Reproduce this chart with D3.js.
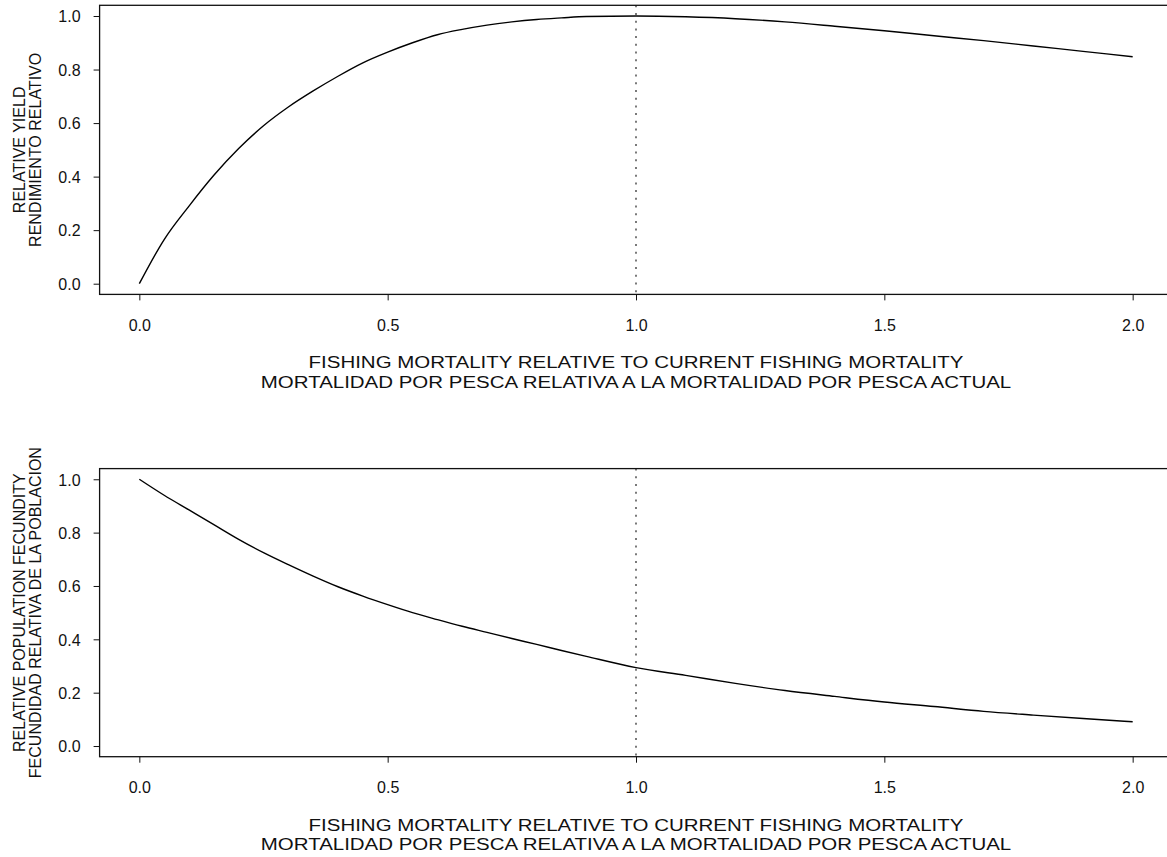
<!DOCTYPE html>
<html>
<head>
<meta charset="utf-8">
<script src="https://cdn.jsdelivr.net/npm/d3@7"></script>
<style>
  body { margin: 0; background: #fff; }
  svg { display: block; font-family: "Liberation Sans", Arial, sans-serif; }
  .tick text { font-size: 16px; fill: #111; }
</style>
</head>
<body>
<svg id="chart" width="1167" height="857"></svg>
<script>
// fishing mortality multipliers (x) shared by both panels
var fMult = [0,0.05,0.1,0.15,0.2,0.25,0.3,0.35,0.4,0.45,0.5,0.55,0.6,0.65,0.7,0.75,0.8,0.85,0.9,1.0,1.1,1.2,1.3,1.4,1.5,1.6,1.7,1.8,1.9,2.0];
// relative yield
var relYield = [0,0.165,0.29,0.405,0.505,0.59,0.66,0.72,0.775,0.825,0.865,0.9,0.93,0.95,0.966,0.978,0.987,0.993,0.998,1.0,0.997,0.99,0.978,0.962,0.945,0.926,0.908,0.888,0.868,0.848];
// relative population fecundity
var relFecund = [1.0,0.94,0.885,0.83,0.775,0.725,0.68,0.637,0.597,0.562,0.53,0.5,0.474,0.449,0.426,0.403,0.381,0.358,0.336,0.294,0.265,0.235,0.208,0.186,0.165,0.148,0.13,0.116,0.103,0.091];

var xTicks = [0,0.5,1.0,1.5,2.0];
var yTicks = [0,0.2,0.4,0.6,0.8,1.0];
var refLine = 1.0;

var xTitle = ["FISHING MORTALITY RELATIVE TO CURRENT FISHING MORTALITY",
              "MORTALIDAD POR PESCA RELATIVA A LA MORTALIDAD POR PESCA ACTUAL"];
var panels = [
  {values: relYield, ylab: ["RELATIVE YIELD","RENDIMIENTO RELATIVO"], top: 5.3, bottom: 294.4},
  {values: relFecund, ylab: ["RELATIVE POPULATION FECUNDITY","FECUNDIDAD RELATIVA DE LA POBLACION"], top: 468.6, bottom: 756.7}
];

var svg = d3.select("#chart");
var left = 99.6, right = 1172.4;
var fmt = d3.format(".1f");

var x = d3.scaleLinear().domain([-0.08, 2.08]).range([left, right]);

panels.forEach(function(p){
  var y = d3.scaleLinear().domain([-0.04, 1.04]).range([p.bottom, p.top]);
  var g = svg.append("g");

  // reference line at current F
  g.append("line")
    .attr("x1", x(refLine)).attr("x2", x(refLine))
    .attr("y1", p.top).attr("y2", p.bottom)
    .attr("stroke", "#222").attr("stroke-width", 1.2)
    .attr("stroke-dasharray", "2,5.7");

  var line = d3.line().x((d,i)=>x(fMult[i])).y(d=>y(d)).curve(d3.curveMonotoneX);
  g.append("path")
    .datum(p.values)
    .attr("d", line)
    .attr("fill", "none")
    .attr("stroke", "#000")
    .attr("stroke-width", 1.4);

  // box
  g.append("rect")
    .attr("x", left).attr("y", p.top)
    .attr("width", right-left).attr("height", p.bottom-p.top)
    .attr("fill", "none").attr("stroke", "#111").attr("stroke-width", 1.3);

  var ax = g.append("g")
    .attr("transform", "translate(0," + p.bottom + ")")
    .call(d3.axisBottom(x).tickValues(xTicks).tickFormat(fmt).tickSize(6).tickSizeOuter(0));
  ax.select(".domain").remove();
  ax.selectAll(".tick line").attr("stroke", "#111");
  ax.selectAll(".tick text").attr("y", 36.6).attr("dy", 0);

  var ay = g.append("g")
    .attr("transform", "translate(" + left + ",0)")
    .call(d3.axisLeft(y).tickValues(yTicks).tickFormat(fmt).tickSize(6).tickSizeOuter(0));
  ay.select(".domain").remove();
  ay.selectAll(".tick line").attr("stroke", "#111");
  ay.selectAll(".tick text").attr("x", -19).attr("dy", "0.36em");

  // x title: wide lettering, 16px tall
  var cx = (left + right) / 2;
  xTitle.forEach(function(t, i){
    g.append("text")
      .attr("transform", "translate(" + cx + "," + (p.bottom + 74 + i*19.2) + ") scale(1.28,1)")
      .attr("text-anchor", "middle")
      .attr("font-size", 16).attr("fill", "#111")
      .text(t);
  });

  // y title
  var cy = (p.top + p.bottom) / 2;
  p.ylab.forEach(function(t, i){
    g.append("text")
      .attr("transform", "translate(" + (25 + i*15.5) + "," + cy + ") rotate(-90)")
      .attr("text-anchor", "middle")
      .attr("font-size", 16).attr("fill", "#111")
      .text(t);
  });
});
</script>
</body>
</html>
